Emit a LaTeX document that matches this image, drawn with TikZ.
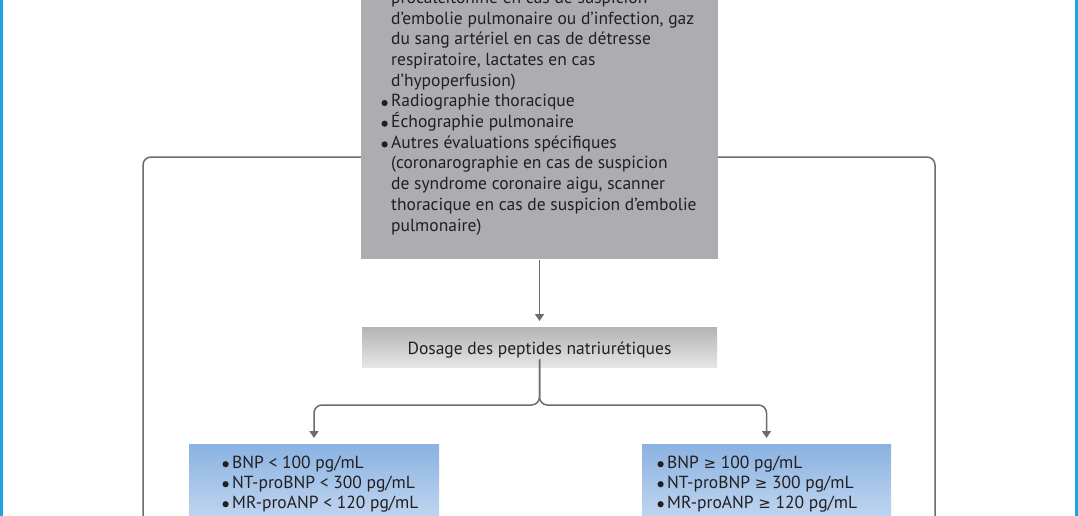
\documentclass[tikz,border=0pt]{standalone}
\usepackage{fontspec}
\setmainfont{PT Sans}
\newfontfamily\symfont{DejaVu Sans}
\usetikzlibrary{arrows.meta}
\definecolor{frameblue}{RGB}{30,162,228}
\definecolor{boxgray}{RGB}{172,172,177}
\definecolor{linegray}{RGB}{108,108,108}
\definecolor{txtc}{RGB}{35,31,32}
\definecolor{bluetop}{RGB}{138,178,225}
\definecolor{bluebot}{RGB}{226,236,249}
\definecolor{dostop}{RGB}{180,180,182}
\definecolor{dosbot}{RGB}{230,230,230}
\newcommand\bul{\llap{\tikz[baseline=0pt]\fill[txtc] (0pt,3.8pt) circle (3.1pt);\hspace{3.5pt}}}
\newcommand\mygeq{{\symfont\fontsize{15}{20}\selectfont ≥}}
\tikzset{
  txt/.style={font=\fontsize{17.5}{20.7}\selectfont, text=txtc, inner sep=0pt, align=left},
  conn/.style={draw=linegray, line width=1.5pt},
  arr/.style={conn, -{Triangle[width=9pt,length=7pt]}},
  graybox/.style={fill=boxgray, inner sep=0pt},
}
\begin{document}
\begin{tikzpicture}[x=1pt,y=-1pt]
\useasboundingbox (0,0) rectangle (1078,516);
\clip (0,0) rectangle (1078,516);
\fill[white] (0,0) rectangle (1078,516);
% frame bars
\fill[frameblue] (0,0) rectangle (3,516);
\fill[frameblue] (1075,0) rectangle (1078,516);

% main gray box
\node[graybox, minimum width=357pt, minimum height=380pt, anchor=south] (exam) at (539.5,259.5) {};
\node[txt, anchor=base west] (examtext) at (391,231) {procalcitonine en cas de suspicion\\
d’embolie pulmonaire ou d’infection, gaz\\
du sang artériel en cas de détresse\\
respiratoire, lactates en cas\\
d’hypoperfusion)\\
\bul Radiographie thoracique\\
\bul Échographie pulmonaire\\
\bul Autres évaluations spécifiques\\
(coronarographie en cas de suspicion\\
de syndrome coronaire aigu, scanner\\
thoracique en cas de suspicion d’embolie\\
pulmonaire)};

% dosage box
\node[minimum width=355pt, minimum height=40pt, inner sep=0pt, top color=dostop, bottom color=dosbot, anchor=north] (dosage) at (539.5,327) {};
\node[txt, anchor=base] (dosagetext) at (539.5,354) {Dosage des peptides natriurétiques};

% blue boxes
\node[minimum width=250pt, minimum height=120pt, inner sep=0pt, top color=bluetop, bottom color=bluebot, anchor=north] (low) at (314,444) {};
\node[minimum width=249pt, minimum height=120pt, inner sep=0pt, top color=bluetop, bottom color=bluebot, anchor=north] (high) at (766.5,444) {};
\node[txt, anchor=base west, font=\fontsize{17.5}{20}\selectfont] (lowtext) at (232,508) {\bul BNP < 100 pg/mL\\
\bul NT-proBNP < 300 pg/mL\\
\bul MR-proANP < 120 pg/mL};
\node[txt, anchor=base west, font=\fontsize{17.5}{20}\selectfont] (hightext) at (667,508) {\bul BNP \mygeq{} 100 pg/mL\\
\bul NT-proBNP \mygeq{} 300 pg/mL\\
\bul MR-proANP \mygeq{} 120 pg/mL};

% connectors
\coordinate (sidey) at (0,157);
\coordinate (sideL) at (143,540);
\coordinate (sideR) at (935,540);
\coordinate (split) at (539.5,405);
\draw[conn, rounded corners=8pt] (exam.west |- sidey) -| (sideL);
\draw[conn, rounded corners=8pt] (exam.east |- sidey) -| (sideR);
\draw[arr, shorten >=6pt] (exam.south) -- (dosage.north);
\draw[arr, rounded corners=8pt, shorten >=6pt] ([yshift=8pt]dosage.south) -- (split) -| (low.north);
\draw[arr, rounded corners=8pt, shorten >=6pt] ([yshift=8pt]dosage.south) -- (split) -| (high.north);
\end{tikzpicture}
\end{document}
